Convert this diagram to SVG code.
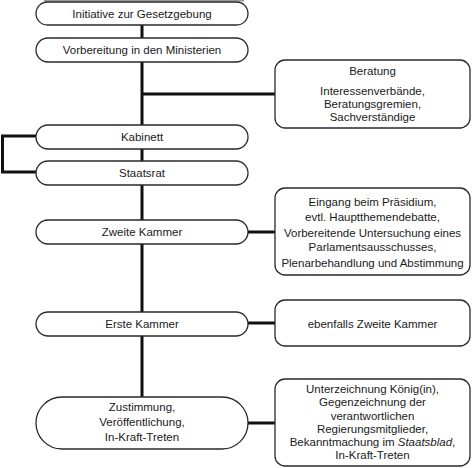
<svg xmlns="http://www.w3.org/2000/svg" width="474" height="468" viewBox="0 0 474 468">
<style>
.pill{fill:#fff;stroke:#2a2a2a;stroke-width:1.3}
.box{fill:#fff;stroke:#2a2a2a;stroke-width:1.3}
.ln{fill:none;stroke:#111;stroke-width:3}
text{font-family:"Liberation Sans",Arial,sans-serif;font-size:11.5px;fill:#1a1a1a;text-anchor:middle;dominant-baseline:central}
</style>
<rect x="44" y="0" width="200" height="1.6" fill="#999"/>
<g id="connectors">
<line class="ln" x1="142" y1="25" x2="142" y2="397"/>
<line class="ln" x1="142" y1="94" x2="275" y2="94"/>
<polyline class="ln" points="37,136 2.5,136 2.5,172 37,172"/>
<line class="ln" x1="248" y1="232" x2="275" y2="232"/>
<line class="ln" x1="248" y1="323" x2="275" y2="323"/>
<line class="ln" x1="248" y1="423" x2="275" y2="423"/>
</g>
<g id="n1"><rect class="pill" x="36" y="2" width="212" height="23" rx="11.5"/><text x="142" y="13.5">Initiative zur Gesetzgebung</text></g>
<g id="n2"><rect class="pill" x="36" y="38" width="212" height="24" rx="12"/><text x="142" y="50">Vorbereitung in den Ministerien</text></g>
<g id="n3"><rect class="box" x="275" y="60" width="195" height="68" rx="10"/>
<text x="372.5" y="70.7">Beratung</text>
<text x="372.5" y="90.7">Interessenverbände,</text>
<text x="372.5" y="104">Beratungsgremien,</text>
<text x="372.5" y="117.3">Sachverständige</text></g>
<g id="n4"><rect class="pill" x="36" y="125" width="212" height="24" rx="12"/><text x="142" y="137">Kabinett</text></g>
<g id="n5"><rect class="pill" x="36" y="161" width="212" height="24" rx="12"/><text x="142" y="173">Staatsrat</text></g>
<g id="n6"><rect class="pill" x="36" y="220" width="212" height="24" rx="12"/><text x="142" y="232">Zweite Kammer</text></g>
<g id="n7"><rect class="box" x="275" y="188" width="195" height="87" rx="10"/>
<text x="372.5" y="201.7">Eingang beim Präsidium,</text>
<text x="372.5" y="216.7">evtl. Hauptthemendebatte,</text>
<text x="372.5" y="233">Vorbereitende Untersuchung eines</text>
<text x="372.5" y="246.7">Parlamentsausschusses,</text>
<text x="372.5" y="263">Plenarbehandlung und Abstimmung</text></g>
<g id="n8"><rect class="pill" x="36" y="312" width="212" height="24" rx="12"/><text x="142" y="324">Erste Kammer</text></g>
<g id="n9"><rect class="box" x="275" y="300" width="195" height="46" rx="10"/><text x="372.5" y="324">ebenfalls Zweite Kammer</text></g>
<g id="n10"><rect class="pill" x="36" y="397" width="212" height="52" rx="26"/>
<text x="142" y="407.3">Zustimmung,</text>
<text x="142" y="422.3">Veröffentlichung,</text>
<text x="142" y="437.3">In-Kraft-Treten</text></g>
<g id="n11"><rect class="box" x="275" y="379" width="195" height="87" rx="10"/>
<text x="372.5" y="389">Unterzeichnung König(in),</text>
<text x="372.5" y="402">Gegenzeichnung der</text>
<text x="372.5" y="415.7">verantwortlichen</text>
<text x="372.5" y="428.7">Regierungsmitglieder,</text>
<text x="372.5" y="441.7">Bekanntmachung im <tspan font-style="italic">Staatsblad</tspan>,</text>
<text x="372.5" y="454.7">In-Kraft-Treten</text></g>
</svg>
